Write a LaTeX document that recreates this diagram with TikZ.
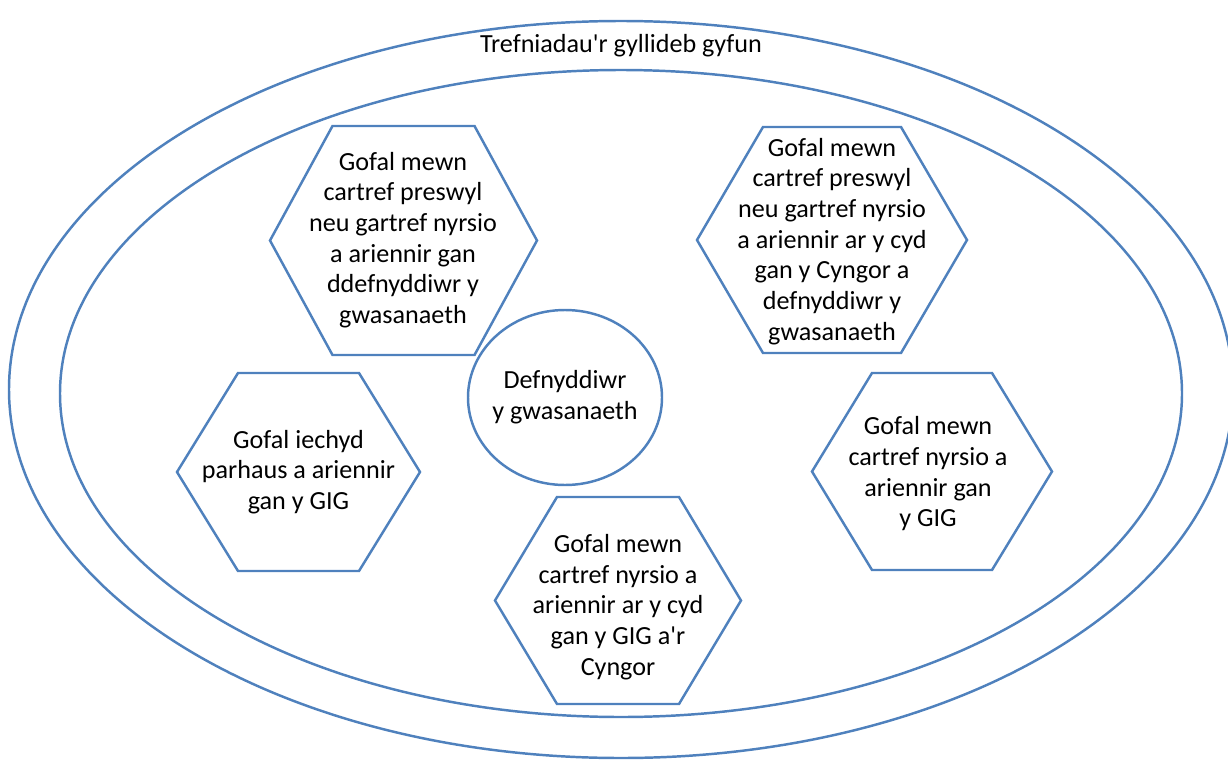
\documentclass[tikz,border=0pt]{standalone}
\usepackage{fontspec}
\setmainfont{Carlito}
\usetikzlibrary{shapes.geometric}
\definecolor{linecol}{HTML}{4F81BD}
\newcommand\hexshape[5]{% cx, cy, half width, half height, inset
  \draw[shapeline] (#1-#3,#2) -- (#1-#3+#5,#2-#4) -- (#1+#3-#5,#2-#4) -- (#1+#3,#2)
    -- (#1+#3-#5,#2+#4) -- (#1-#3+#5,#2+#4) -- cycle;}
\begin{document}
\begin{tikzpicture}[x=0.75pt,y=-0.75pt,
  shapeline/.style={draw=linecol,line width=1.85pt,line join=miter},
  txt/.style={align=center,inner sep=0pt,text=black,font=\fontsize{19.6}{23}\selectfont},
  ring/.style={shapeline,ellipse,inner sep=0pt}]
\useasboundingbox (0,0) rectangle (1228,760);
\clip (0,0) rectangle (1228,760);
% outer and inner ellipses
\node[ring,minimum width=918pt,minimum height=552.75pt] (outer) at (621,389.5) {};
\node[ring,minimum width=841.5pt,minimum height=485.25pt] (inner) at (621,393.5) {};
\node[txt] (title) at (621,46) {Trefniadau\textquotesingle r gyllideb gyfun};
% centre
\node[ring,minimum width=145.5pt,minimum height=131.25pt] (user) at (565,397.5) {};
\node[txt] (usertext) at (user.center) {Defnyddiwr\\ y gwasanaeth};
% hexagons
\hexshape{403.5}{240.5}{133.5}{114.5}{62.5}
\node[txt] (h1) at (403,240) {Gofal mewn\\cartref preswyl\\neu gartref nyrsio\\a ariennir gan\\ddefnyddiwr y\\gwasanaeth};
\hexshape{832}{240}{135}{113}{66}
\node[txt] (h2) at (832,241.5) {Gofal mewn\\cartref preswyl\\neu gartref nyrsio\\a ariennir ar y cyd\\gan y Cyngor a\\defnyddiwr y\\gwasanaeth};
\hexshape{298.5}{472}{121.5}{99}{61}
\node[txt] (h3) at (298.5,472) {Gofal iechyd\\parhaus a ariennir\\gan y GIG};
\hexshape{932}{471.5}{120}{98.5}{60}
\node[txt] (h4) at (928,474) {Gofal mewn\\cartref nyrsio a\\ariennir gan\\y GIG};
\hexshape{618}{600.5}{123}{103.5}{62}
\node[txt] (h5) at (618,607) {Gofal mewn\\cartref nyrsio a\\ariennir ar y cyd\\gan y GIG a\textquotesingle r\\Cyngor};
\end{tikzpicture}
\end{document}
